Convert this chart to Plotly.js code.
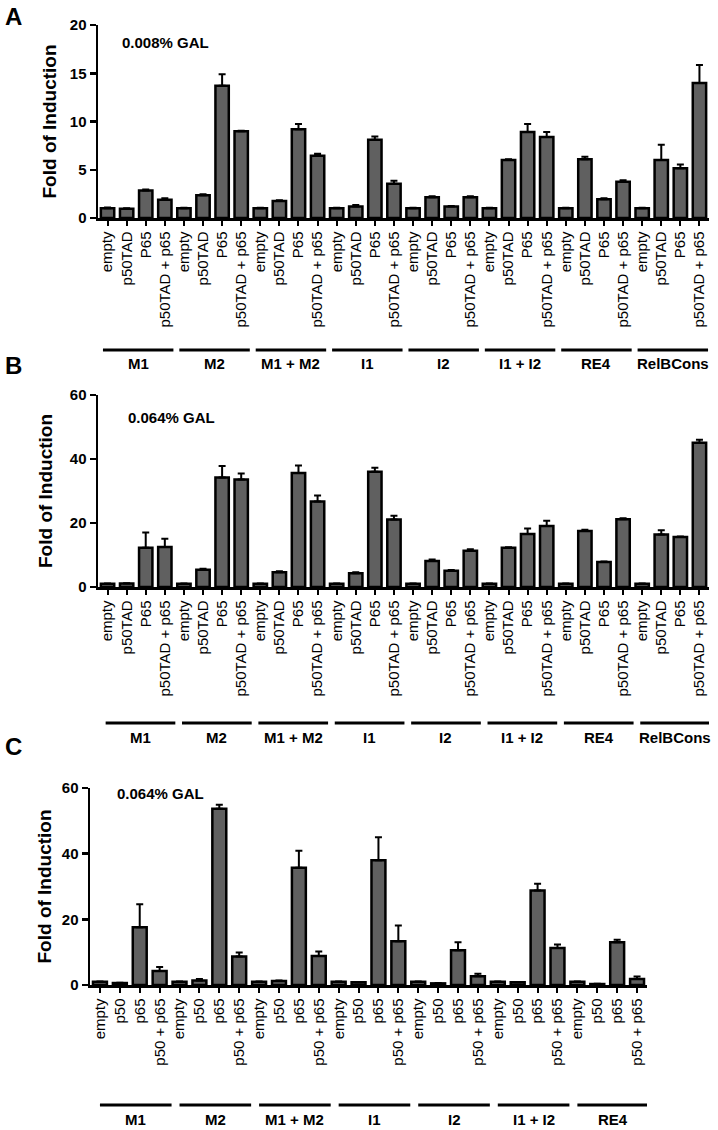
<!DOCTYPE html>
<html>
<head>
<meta charset="utf-8">
<script src="https://cdn.plot.ly/plotly-3.0.1.min.js"></script>
<style>html,body{margin:0;padding:0;background:#fff;}#chart{width:718px;height:1130px;}</style>
</head>
<body>
<div id="chart"></div>
<script>
// ---------- data ----------
const groupsAB = ["M1", "M2", "M1 + M2", "I1", "I2", "I1 + I2", "RE4", "RelBCons"];
const condAB = ["empty", "p50TAD", "P65", "p50TAD + p65"];
const groupsC = ["M1", "M2", "M1 + M2", "I1", "I2", "I1 + I2", "RE4"];
const condC = ["empty", "p50", "p65", "p50 + p65"];

const valuesA = [1.0, 0.95, 2.85, 1.9,  1.0, 2.35, 13.7, 9.0,  1.0, 1.75, 9.2, 6.45,  1.0, 1.2, 8.1, 3.55,
                 1.0, 2.15, 1.2, 2.15,  1.0, 6.0, 8.9, 8.4,  1.0, 6.1, 1.95, 3.75,  1.0, 6.0, 5.15, 14.0];
const errA = [0.1, 0.05, 0.1, 0.15,  0.05, 0.1, 1.2, 0.05,  0.05, 0.1, 0.55, 0.2,  0.05, 0.15, 0.35, 0.3,
              0.05, 0.1, 0.05, 0.1,  0.05, 0.1, 0.85, 0.5,  0.05, 0.25, 0.1, 0.15,  0.05, 1.6, 0.4, 1.85];

const valuesB = [1.0, 1.1, 12.3, 12.5,  1.0, 5.4, 34.2, 33.6,  1.0, 4.6, 35.6, 26.7,  1.0, 4.3, 36.0, 21.1,
                 1.0, 8.1, 5.1, 11.3,  1.0, 12.3, 16.6, 19.1,  1.0, 17.5, 7.8, 21.2,  1.0, 16.4, 15.6, 45.1];
const errB = [0.1, 0.1, 4.7, 2.6,  0.1, 0.3, 3.6, 1.9,  0.1, 0.3, 2.4, 1.9,  0.1, 0.3, 1.3, 1.2,
              0.1, 0.5, 0.2, 0.5,  0.1, 0.1, 1.7, 1.6,  0.1, 0.4, 0.2, 0.3,  0.1, 1.3, 0.2, 0.9];

const valuesC = [1.0, 0.6, 17.6, 4.3,  1.0, 1.4, 53.7, 8.7,  1.0, 1.2, 35.7, 8.8,  1.0, 0.8, 38.0, 13.3,
                 1.0, 0.5, 10.6, 2.7,  1.0, 0.8, 28.8, 11.3,  1.0, 0.3, 13.0, 1.8];
const errC = [0.1, 0.1, 7.0, 1.2,  0.1, 0.4, 1.2, 1.2,  0.1, 0.2, 5.2, 1.4,  0.1, 0.1, 7.0, 4.8,
              0.1, 0.1, 2.4, 0.7,  0.1, 0.1, 2.0, 1.0,  0.1, 0.1, 0.8, 0.8];

const panelTitles = ["0.008% GAL", "0.064% GAL", "0.064% GAL"];
const panelLetters = ["A", "B", "C"];
const yTitle = "Fold of Induction";

// ---------- helpers ----------
const W = 718, H = 1130;
const FONT = "Arial, 'Liberation Sans', Helvetica, sans-serif";
const px = v => v / W;
const py = v => 1 - v / H;

function ticksFor(groups, conds) {
  const vals = [], text = [];
  groups.forEach((g, gi) => conds.forEach((c, ci) => { vals.push(gi * conds.length + ci); text.push(c); }));
  return {vals, text};
}

const panels = [
  {groups: groupsAB, conds: condAB, vals: valuesA, err: errA, ymax: 20, dtick: 5,
   xdom: [98, 709], y0: 218, y1: 25, lineY: 350, labY: 363, lineOff: [-0.24, -0.55],
   titleX: 49, gal: [120, 42], letter: [3, 16]},
  {groups: groupsAB, conds: condAB, vals: valuesB, err: errB, ymax: 60, dtick: 20,
   xdom: [98, 709], y0: 587, y1: 395, lineY: 723, labY: 737, lineOff: [-0.1, -0.45],
   titleX: 45, gal: [126, 418], letter: [3, 366]},
  {groups: groupsC, conds: condC, vals: valuesC, err: errC, ymax: 60, dtick: 20,
   xdom: [90, 647], y0: 985, y1: 788, lineY: 1105, labY: 1119, lineOff: [0.0, -0.4],
   titleX: 44, gal: [115, 793], letter: [3, 746]}
];

const data = [], shapes = [], annotations = [];
const layout = {
  width: W, height: H, autosize: false,
  margin: {l: 0, r: 0, t: 0, b: 0},
  paper_bgcolor: "#fff", plot_bgcolor: "#fff",
  showlegend: false, bargap: 0.3,
  font: {family: FONT, color: "#000"}
};

panels.forEach((p, i) => {
  const n = i === 0 ? "" : String(i + 1);
  const xa = "x" + n, ya = "y" + n;
  const t = ticksFor(p.groups, p.conds);
  data.push({
    type: "bar", x: t.vals, y: p.vals, xaxis: xa, yaxis: ya,
    marker: {color: "#606060", line: {color: "#000", width: 2.5}},
    error_y: {type: "data", symmetric: false, array: p.err, arrayminus: p.err.map(() => 0),
              color: "#000", thickness: 2, width: 3.5},
    hoverinfo: "skip"
  });
  layout["xaxis" + n] = {
    domain: [px(p.xdom[0]), px(p.xdom[1])], anchor: ya,
    range: [-0.5, t.vals.length - 0.5], tickmode: "array", tickvals: t.vals, ticktext: t.text,
    tickangle: -90, ticks: "outside", ticklen: 5, tickwidth: 2, tickcolor: "#000",
    tickfont: {family: FONT, size: 15, color: "#000"},
    showline: true, linecolor: "#000", linewidth: 2.5, showgrid: false, zeroline: false, fixedrange: true
  };
  const yticks = [];
  for (let v = 0; v <= p.ymax; v += p.dtick) yticks.push(v);
  layout["yaxis" + n] = {
    domain: [py(p.y0), py(p.y1)], anchor: xa, range: [0, p.ymax],
    tickmode: "array", tickvals: yticks,
    ticks: "outside", ticklen: 6, tickwidth: 2.5, tickcolor: "#000",
    tickfont: {family: FONT, size: 15, color: "#000", weight: 700},
    showline: true, linecolor: "#000", linewidth: 2.5, showgrid: false, zeroline: false, fixedrange: true
  };
  annotations.push({xref: "paper", yref: "paper", x: px(p.titleX), y: py((p.y0 + p.y1) / 2),
    text: "<b>" + yTitle + "</b>", textangle: -90, showarrow: false, xanchor: "center", yanchor: "middle",
    font: {family: FONT, size: 19, color: "#000"}});
  annotations.push({xref: "paper", yref: "paper", x: px(p.gal[0]), y: py(p.gal[1]),
    text: "<b>" + panelTitles[i] + "</b>", showarrow: false, xanchor: "left", yanchor: "middle",
    font: {family: FONT, size: 15, color: "#000"}});
  annotations.push({xref: "paper", yref: "paper", x: px(p.letter[0]), y: py(p.letter[1]),
    text: "<b>" + panelLetters[i] + "</b>", showarrow: false, xanchor: "left", yanchor: "middle",
    font: {family: FONT, size: 24, color: "#000"}});
  const k = p.conds.length;
  p.groups.forEach((g, gi) => {
    const a = gi * k + p.lineOff[0], b = gi * k + k + p.lineOff[1];
    shapes.push({type: "line", xref: xa, yref: "paper", x0: a, x1: b, y0: py(p.lineY), y1: py(p.lineY),
      line: {color: "#000", width: 3}});
    annotations.push({xref: xa, yref: "paper", x: (a + b) / 2, y: py(p.labY),
      text: "<b>" + g + "</b>", showarrow: false, xanchor: "center", yanchor: "middle",
      font: {family: FONT, size: 15, color: "#000"}});
  });
});

layout.shapes = shapes;
layout.annotations = annotations;

Plotly.newPlot("chart", data, layout, {staticPlot: true, displayModeBar: false});
</script>
</body>
</html>
